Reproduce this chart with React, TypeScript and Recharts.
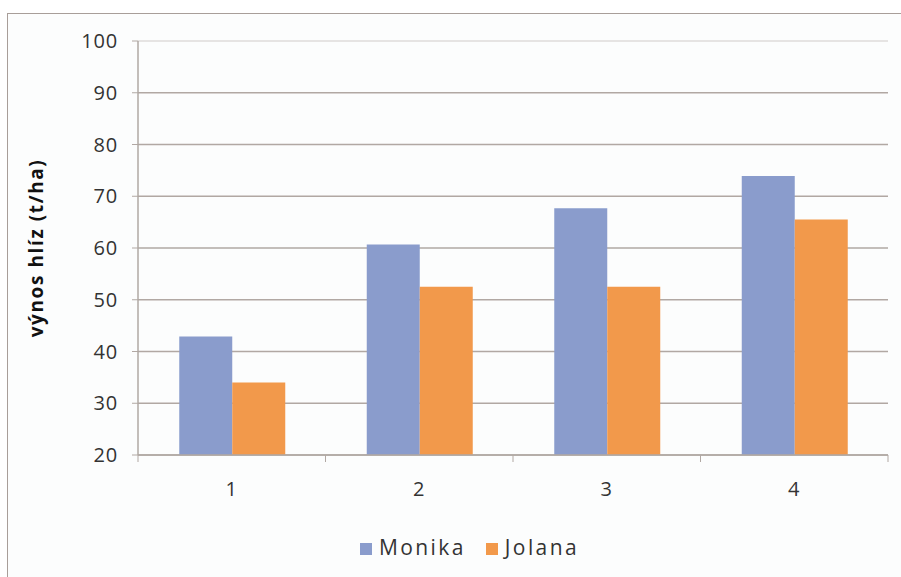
import React from "react";
import {
  BarChart,
  Bar,
  XAxis,
  YAxis,
  CartesianGrid,
  Legend,
  ReferenceLine,
} from "recharts";

// categories (pokus 1-4) and yields
const categories = ["1", "2", "3", "4"];
const monika = [42.9, 60.7, 67.7, 73.9];
const jolana = [34.0, 52.5, 52.5, 65.5];
const yTicks = [20, 30, 40, 50, 60, 70, 80, 90, 100];
const seriesOrder = ["Monika", "Jolana"];

const data = categories.map((c, i) => ({
  name: c,
  Monika: monika[i],
  Jolana: jolana[i],
}));

const W = 901;
const H = 577;
const MARGIN = { top: 41, right: 13, bottom: 42, left: 0 };
const Y_WIDTH = 138;
const FONT = "'Open Sans', Lato, sans-serif";
const AXIS = "#b1a8a3";

const halfBand = (W - MARGIN.left - MARGIN.right - Y_WIDTH) / categories.length / 2;

// x tick: label at the centre, small tick marks at the category borders
const XTick = (props: any) => {
  const { x, y, payload, index } = props;
  return (
    <g>
      {index === 0 && (
        <line x1={x - halfBand} x2={x - halfBand} y1={y - 8} y2={y - 1} stroke={AXIS} />
      )}
      <line x1={x + halfBand} x2={x + halfBand} y1={y - 8} y2={y - 1} stroke={AXIS} />
      <text
        x={x}
        y={y + 33}
        textAnchor="middle"
        fill="#333"
        fontSize={20}
        fontFamily={FONT}
        letterSpacing={1}
      >
        {payload.value}
      </text>
    </g>
  );
};

export default function App() {
  return (
    <div
      style={{
        position: "absolute",
        left: 7,
        top: 13,
        width: 920,
        height: 600,
        border: "1px solid #a89e99",
        background: "#fcfdfd",
      }}
    >
      <div style={{ position: "absolute", left: -8, top: -14 }}>
        <BarChart
          width={W}
          height={H}
          data={data}
          margin={MARGIN}
          barGap={0}
          barCategoryGap="22%"
        >
          <CartesianGrid vertical={false} stroke={AXIS} strokeWidth={1.5} />
          <ReferenceLine y={100} stroke="#e6e4e3" strokeWidth={2} />
          <XAxis
            dataKey="name"
            height={50}
            tickLine={false}
            axisLine={{ stroke: AXIS, strokeWidth: 1.5 }}
            tick={<XTick />}
            interval={0}
          />
          <YAxis
            width={Y_WIDTH}
            domain={[20, 100]}
            ticks={yTicks}
            allowDataOverflow
            tickSize={6}
            tickMargin={14}
            tickLine={{ stroke: AXIS }}
            axisLine={{ stroke: AXIS, strokeWidth: 1.5 }}
            tick={{ fill: "#333", fontSize: 20, fontFamily: FONT, letterSpacing: 0.8 }}
            label={{
              value: "výnos hlíz (t/ha)",
              angle: -90,
              position: "insideLeft",
              offset: 36,
              style: {
                textAnchor: "middle",
                fontWeight: 700,
                fontSize: 19,
                letterSpacing: 1.6,
                fill: "#111",
                fontFamily: FONT,
              },
            }}
          />
          <Bar dataKey="Monika" fill="#8a9ccc" isAnimationActive={false} />
          <Bar dataKey="Jolana" fill="#f2994b" isAnimationActive={false} />
          <Legend
            verticalAlign="bottom"
            height={30}
            iconType="square"
            iconSize={12}
            itemSorter={(item: any) => seriesOrder.indexOf(item.dataKey)}
            wrapperStyle={{
              fontFamily: FONT,
              fontSize: 21,
              letterSpacing: 2.4,
              bottom: 14,
              height: 30,
              left: 360,
              width: "auto",
            }}
            formatter={(value: string) => (
              <span style={{ color: "#333", marginLeft: 3, marginRight: 10 }}>{value}</span>
            )}
          />
        </BarChart>
      </div>
    </div>
  );
}
